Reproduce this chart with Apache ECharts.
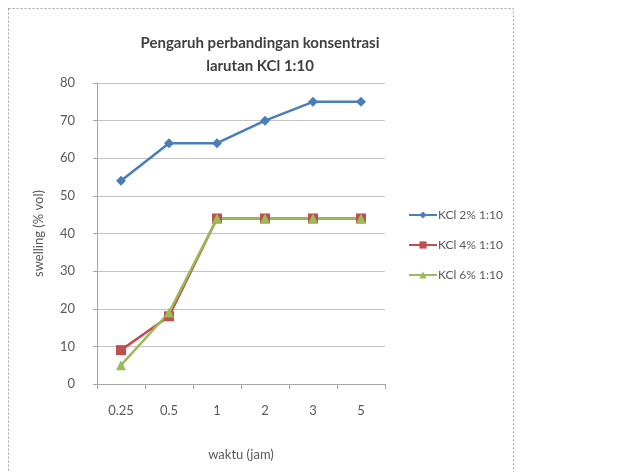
<!DOCTYPE html>
<html>
<head>
<meta charset="utf-8">
<script src="https://cdn.jsdelivr.net/npm/echarts@6/dist/echarts.min.js"></script>
<style>
  html, body { margin: 0; padding: 0; background: #fff; }
  #chart { width: 629px; height: 472px; }
</style>
</head>
<body>
<div id="chart"></div>
<script>
	'use strict';

	var categories = ['0.25', '0.5', '1', '2', '3', '5'];
	var kcl2 = [54, 64, 64, 70, 75, 75];
	var kcl4 = [9, 18, 44, 44, 44, 44];
	var kcl6 = [5, 19, 44, 44, 44, 44];
	var seriesNames = ['KCl 2% 1:10', 'KCl 4% 1:10', 'KCl 6% 1:10'];

	var textColor = '#595959';
	var fontFamily = 'Lato, "Open Sans", sans-serif';

	var option = {
		animation: false,
		color: ['#4a7ebb', '#c0504d', '#9bbb59'],
		textStyle: { fontFamily: fontFamily },
		title: {
			text: 'Pengaruh perbandingan konsentrasi\nlarutan KCl 1:10',
			left: 255,
			top: 27,
			textAlign: 'center',
			textStyle: {
				fontSize: 15,
				fontWeight: 'bold',
				color: '#404040',
				lineHeight: 23,
				fontFamily: fontFamily
			}
		},
		grid: {
			left: 97,
			right: 244,
			top: 83,
			bottom: 88
		},
		legend: {
			orient: 'vertical',
			left: 403,
			top: 204,
			itemWidth: 28,
			itemHeight: 9,
			itemGap: 18,
			textStyle: { fontSize: 12, color: textColor, padding: [0, 0, 0, -4] },
			data: seriesNames
		},
		xAxis: {
			type: 'category',
			data: categories,
			name: 'waktu (jam)',
			nameLocation: 'middle',
			nameGap: 64,
			nameTextStyle: { fontSize: 13, color: textColor },
			axisLine: { lineStyle: { color: '#a6a6a6' } },
			axisTick: { show: true, lineStyle: { color: '#a6a6a6' } },
			axisLabel: { fontSize: 13, color: textColor, margin: 20 }
		},
		yAxis: {
			type: 'value',
			min: 0,
			max: 80,
			interval: 10,
			name: 'swelling (% vol)',
			nameLocation: 'middle',
			nameGap: 52,
			nameTextStyle: { fontSize: 13, color: textColor },
			axisLine: { show: true, lineStyle: { color: '#a6a6a6' } },
			axisTick: { show: true, length: 4, lineStyle: { color: '#a6a6a6' } },
			axisLabel: { fontSize: 13, color: textColor, margin: 22 },
			splitLine: { lineStyle: { color: '#c4c4c4' } }
		},
		graphic: [{
			type: 'rect',
			shape: { x: 8.5, y: 8.5, width: 505, height: 470 },
			style: { fill: 'none', stroke: '#a0a0a0', lineWidth: 1, lineDash: [2, 2] },
			silent: true
		}],
		series: [
			{
				name: seriesNames[0],
				type: 'line',
				data: kcl2,
				symbol: 'diamond',
				symbolSize: 10,
				lineStyle: { width: 2.5 }
			},
			{
				name: seriesNames[1],
				type: 'line',
				data: kcl4,
				symbol: 'rect',
				symbolSize: 10,
				lineStyle: { width: 2.5 }
			},
			{
				name: seriesNames[2],
				type: 'line',
				data: kcl6,
				symbol: 'triangle',
				symbolSize: 10,
				lineStyle: { width: 2.5 }
			}
		]
	};

	var chart = echarts.init(document.getElementById('chart'));
	chart.setOption(option);
</script>
</body>
</html>
